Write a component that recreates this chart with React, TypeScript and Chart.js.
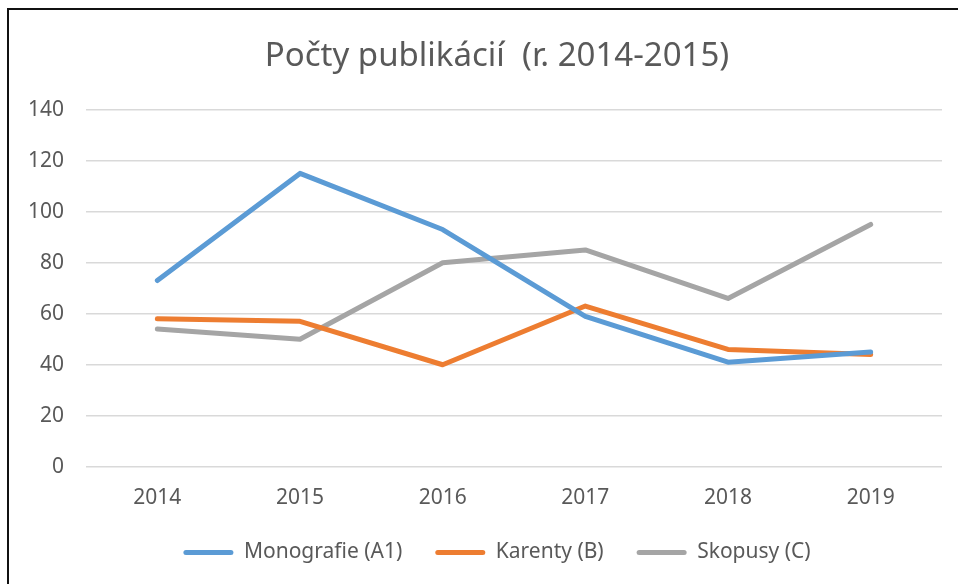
import React, { useEffect, useRef } from "react";
import { Chart, registerables } from "chart.js";

Chart.register(...registerables);

const titleText = "Počty publikácií  (r. 2014-2015)";
const years = ["2014", "2015", "2016", "2017", "2018", "2019"];
const monografie = [73, 115, 93, 59, 41, 45];
const karenty = [58, 57, 40, 63, 46, 44];
const skopusy = [54, 50, 80, 85, 66, 95];
const seriesNames = ["Monografie (A1)", "Karenty (B)", "Skopusy (C)"];
const seriesColors = ["#5B9BD5", "#ED7D31", "#A5A5A5"];

const FONT = "'Noto Sans', sans-serif";
const TEXT = "#595959";
const LEGEND_GAP = "\u2002\u2002";

export default function App() {
  const ref = useRef<HTMLCanvasElement | null>(null);

  useEffect(() => {
    if (!ref.current) return;
    const values = [monografie, karenty, skopusy];
    const chart = new Chart(ref.current, {
      type: "line",
      data: {
        labels: years,
        datasets: values.map((v, i) => ({
          label: seriesNames[i],
          data: v,
          borderColor: seriesColors[i],
          backgroundColor: seriesColors[i],
          borderWidth: 5,
          borderCapStyle: "round",
          borderJoinStyle: "round",
          pointRadius: 0,
          pointHoverRadius: 0,
          tension: 0,
          yAxisID: "y",
        })),
      },
      options: {
        animation: false,
        responsive: false,
        maintainAspectRatio: false,
        layout: { padding: { left: 18, right: 18, top: 27, bottom: 11 } },
        plugins: {
          tooltip: { enabled: false },
          title: {
            display: true,
            text: titleText,
            color: TEXT,
            font: { family: FONT, size: 33, weight: "normal" },
            padding: { top: 0, bottom: 33 },
          },
          legend: {
            position: "bottom",
            labels: {
              color: TEXT,
              font: { family: FONT, size: 21 },
              boxWidth: 50,
              boxHeight: 5,
              padding: 12,
              generateLabels: (c: any) => {
                const items = Chart.defaults.plugins.legend.labels.generateLabels(c);
                return items.map((it: any, i: number) => ({
                  ...it,
                  text: i < items.length - 1 ? it.text + LEGEND_GAP : it.text,
                  fillStyle: seriesColors[i],
                  strokeStyle: seriesColors[i],
                  lineWidth: 0,
                  borderRadius: 2.5,
                }));
              },
            },
          },
        },
        scales: {
          x: {
            offset: true,
            grid: { display: false, drawTicks: false },
            border: { display: false },
            ticks: {
              color: TEXT,
              font: { family: FONT, size: 21 },
              padding: 19,
            },
          },
          y: {
            min: 0,
            max: 140,
            grid: { color: "#D9D9D9", lineWidth: 1.5, drawTicks: false },
            border: { display: false },
            ticks: {
              stepSize: 20,
              color: TEXT,
              font: { family: FONT, size: 21 },
              padding: 22,
            },
            afterFit: (s: any) => {
              s.width = 58;
            },
          },
          y2: {
            position: "right",
            display: true,
            grid: { display: false, drawTicks: false },
            border: { display: false },
            ticks: { display: false },
            afterFit: (s: any) => {
              s.width = 24;
            },
          },
        },
      },
    });
    return () => chart.destroy();
  }, []);

  return (
    <div
      style={{
        position: "fixed",
        left: 0,
        top: 0,
        width: 958,
        height: 584,
        overflow: "hidden",
        background: "#fff",
      }}
    >
      <div
        style={{
          position: "absolute",
          left: 7,
          top: 8,
          width: 1000,
          height: 700,
          borderLeft: "2px solid #111",
          borderTop: "2px solid #111",
          boxSizing: "border-box",
        }}
      />
      <canvas
        ref={ref}
        width={974}
        height={574}
        style={{ position: "absolute", left: 10, top: 10, width: 974, height: 574 }}
      />
    </div>
  );
}
